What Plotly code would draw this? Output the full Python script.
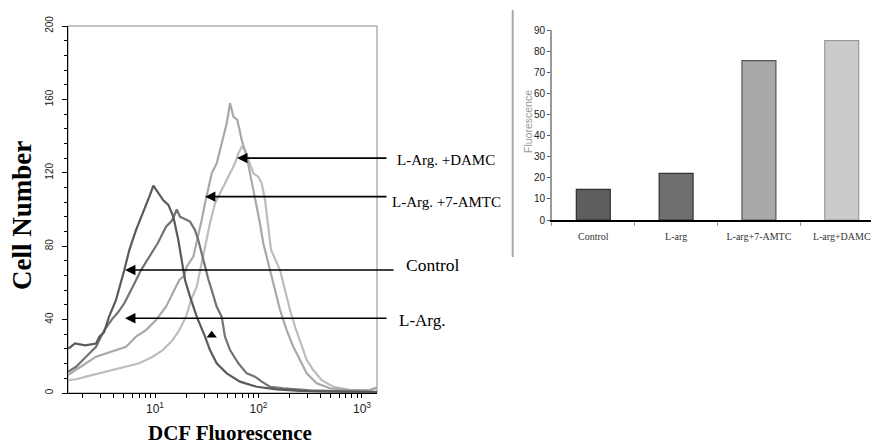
import numpy as np
import plotly.graph_objects as go

# The page places the figure 8px from the window's top-left corner,
# so the figure is drawn 8px smaller and all positions are shifted by that amount.
OFF = 8
W, H = 879 - OFF, 445 - OFF

# ---------------- histogram data (log10 of DCF fluorescence, cell counts) ----------------
ctrl_log = [0.159, 0.227, 0.324, 0.430, 0.462, 0.507, 0.556, 0.623, 0.703, 0.752, 0.816, 0.897,
            0.945, 0.984, 1.019, 1.080, 1.129, 1.177, 1.225, 1.258, 1.290, 1.338, 1.403, 1.483,
            1.531, 1.596, 1.693, 1.821, 1.983, 2.176, 2.401, 2.691, 3.145]
ctrl_cnt = [24, 27, 26, 27, 30.7, 33, 41.6, 50.7, 67, 78, 88.8, 99.7,
            107, 113, 110, 105, 102.5, 96, 83.4, 72.5, 61.6, 52.5, 41.6, 30.7,
            23.4, 16.2, 10.7, 6.2, 3.4, 2.0, 1.2, 0.8, 0.5]

larg_log = [0.159, 0.237, 0.333, 0.430, 0.510, 0.591, 0.643, 0.703, 0.785, 0.865, 0.945, 1.026,
            1.106, 1.164, 1.210, 1.242, 1.273, 1.338, 1.386, 1.418, 1.451, 1.483, 1.515, 1.548,
            1.596, 1.644, 1.676, 1.725, 1.805, 1.886, 1.966, 2.031, 2.111, 2.237, 2.498, 2.787, 3.145]
larg_cnt = [11.6, 14.3, 19.8, 25.2, 34.3, 40.7, 44, 48.9, 57.9, 67, 74.3, 81.6,
            90.6, 94, 100, 96, 95.2, 93.4, 88.8, 83.4, 76.1, 68.8, 62, 56.1,
            47, 41.6, 30.7, 23.4, 16.2, 10.7, 8.9, 6.2, 3.4, 2.5, 1.5, 1.0, 0.6]

amtc_log = [0.159, 0.237, 0.333, 0.430, 0.527, 0.623, 0.720, 0.816, 0.913, 1.010, 1.106, 1.171,
            1.235, 1.283, 1.306, 1.370, 1.418, 1.451, 1.483, 1.515, 1.548, 1.596, 1.644, 1.693,
            1.725, 1.757, 1.795, 1.838, 1.886, 1.918, 1.950, 1.983, 2.014, 2.046, 2.095, 2.111,
            2.159, 2.208, 2.272, 2.336, 2.401, 2.466, 2.562, 2.691, 2.884, 3.077, 3.145]
amtc_cnt = [9.8, 12.5, 16.2, 19.8, 21.6, 23.4, 25.2, 30.7, 34.3, 39.8, 47, 54.3,
            61.6, 64, 68.8, 74.3, 85.2, 94.3, 103.4, 112.4, 119.7, 125.2, 136.1, 147,
            158, 150.6, 148.8, 137.9, 128.8, 119.7, 112.4, 101.5, 92.5, 81.6, 70.7, 67,
            56.1, 45.2, 34.3, 25.2, 18, 10.7, 5.3, 2.6, 1.6, 1.6, 3.0]

damc_log = [0.159, 0.237, 0.333, 0.462, 0.591, 0.720, 0.848, 0.978, 1.074, 1.171, 1.235, 1.300,
            1.348, 1.403, 1.435, 1.483, 1.531, 1.580, 1.628, 1.676, 1.725, 1.773, 1.805, 1.838,
            1.870, 1.918, 1.950, 1.998, 2.031, 2.063, 2.092, 2.121, 2.208, 2.256, 2.304, 2.353,
            2.417, 2.466, 2.529, 2.611, 2.723, 2.884, 3.077, 3.145]
damc_cnt = [7, 7.5, 8.9, 10.7, 12.5, 14.3, 16.2, 19.8, 23.4, 28.9, 34.3, 41.6,
            50.7, 57.9, 67, 79.7, 92.5, 103.4, 108.8, 114.3, 119.7, 125.2, 130.6, 134.2,
            132.4, 125.2, 119.7, 117.9, 114.3, 105.2, 92.5, 78, 67, 56.1, 45.2, 36.1,
            25.2, 18, 12.5, 7, 3.4, 1.6, 1.6, 3.0]

hist_names = ["L-Arg. +DAMC", "L-Arg. +7-AMTC", "L-Arg.", "Control"]
hist_logs = [damc_log, amtc_log, larg_log, ctrl_log]
hist_counts = [damc_cnt, amtc_cnt, larg_cnt, ctrl_cnt]
hist_colors = ["#bdbdbd", "#a9a9a9", "#737373", "#5a5a5a"]

# arrow labels: text, arrow tip (fluorescence, count), tail offset px, label position px, font size
arrow_text = ["L-Arg. +DAMC", "L-Arg. +7-AMTC", "Control", "L-Arg."]
arrow_tip_x = [61.9, 30.4, 5.13, 5.13]
arrow_tip_y = [128, 107, 67, 40.7]
arrow_len_px = [151, 183, 270, 263]
label_px_x = [395, 390, 404, 397]
label_px_y = [160, 202, 265, 320]
label_size = [15, 15, 17.5, 17]

small_tri_x = [35.3]
small_tri_y = [31.5]

# ---------------- bar chart data ----------------
bar_categories = ["Control", "L-arg", "L-arg+7-AMTC", "L-arg+DAMC"]
bar_values = [14.5, 22.1, 75.5, 85]
bar_colors = ["#5e5e5e", "#6f6f6f", "#a9a9a9", "#cbcbcb"]
bar_edges = ["#2e2e2e", "#333333", "#555555", "#9a9a9a"]

# ---------------- figure ----------------
fig = go.Figure()
for name, lg, cnt, col in zip(hist_names, hist_logs, hist_counts, hist_colors):
    fig.add_trace(go.Scatter(x=10 ** np.array(lg), y=cnt, mode="lines", name=name,
                             line=dict(color=col, width=2.2), hoverinfo="skip",
                             xaxis="x", yaxis="y"))

fig.add_trace(go.Scatter(x=small_tri_x, y=small_tri_y, mode="markers",
                         marker=dict(symbol="triangle-up", size=9, color="black"),
                         hoverinfo="skip", xaxis="x", yaxis="y"))

fig.add_trace(go.Bar(x=bar_categories, y=bar_values, width=0.41,
                     marker=dict(color=bar_colors, line=dict(color=bar_edges, width=1.2)),
                     xaxis="x2", yaxis="y2", hoverinfo="skip"))

def px_x(p):
    return (p - OFF) / W

def px_y(p):
    return 1 - (p - OFF) / H

decades = [10, 100, 1000]
decade_text = ["10<sup>1</sup>", "10<sup>2</sup>", "10<sup>3</sup>"]
minor_ticks = [m * 10 ** d for d in range(0, 4) for m in range(2, 10)]
minor_ticks = [t for t in minor_ticks if 1.44 <= t <= 1396]

fig.update_layout(
    width=W, height=H,
    margin=dict(l=0, r=0, t=0, b=0, autoexpand=False),
    paper_bgcolor="white", plot_bgcolor="white",
    showlegend=False,
    xaxis=dict(type="log", range=[0.159, 3.145], domain=[px_x(68), px_x(377)], anchor="y",
               automargin=False,
               showline=True, linecolor="black", linewidth=1.3, mirror=False,
               ticks="outside", ticklen=4, tickwidth=1, tickcolor="black",
               tickmode="array", tickvals=decades, ticktext=decade_text,
               minor=dict(tickmode="array", tickvals=minor_ticks, ticks="outside",
                          ticklen=4, tickcolor="black", showgrid=False),
               tickfont=dict(family="Arial", size=12, color="#222"),
               showgrid=False, zeroline=False),
    yaxis=dict(range=[0, 200], domain=[px_y(393), px_y(26)], anchor="x",
               automargin=False,
               showline=True, linecolor="black", linewidth=1.3,
               tickvals=[0, 40, 80, 120, 160, 200], tickangle=-90,
               ticks="outside", ticklen=5, tickcolor="black",
               minor=dict(dtick=8, ticks="outside", ticklen=3, tickcolor="black", showgrid=False),
               tickfont=dict(family="Arial", size=10, color="#222"),
               ticklabelstandoff=5,
               showgrid=False, zeroline=False),
    xaxis2=dict(type="category", domain=[px_x(551.9), 1.0], range=[-0.5, 3.45], anchor="y2",
                automargin=False,
                showline=True, linecolor="black", linewidth=1.5,
                ticks="outside", tickson="boundaries", ticklen=4, tickcolor="#999",
                tickfont=dict(family="Liberation Serif", size=10, color="#333"),
                ticklabelstandoff=6, showgrid=False, zeroline=False),
    yaxis2=dict(range=[0, 90], dtick=10, domain=[px_y(220), px_y(30)], anchor="x2",
                automargin=False,
                showline=True, linecolor="#999", linewidth=1.5,
                ticks="outside", ticklen=3, tickcolor="#555",
                tickfont=dict(family="Arial", size=10, color="#222"),
                showgrid=False, zeroline=False),
)

shapes = [
    dict(type="rect", xref="paper", yref="paper", x0=px_x(68), x1=px_x(377),
         y0=px_y(393), y1=px_y(26), line=dict(color="#888", width=1), layer="below"),
    dict(type="line", xref="paper", yref="paper", x0=px_x(512.7), x1=px_x(512.7),
         y0=px_y(257), y1=px_y(10), line=dict(color="#aaa", width=2)),
]
fig.update_layout(shapes=shapes)

annotations = []
for t, tx, ty, ln, lx, ly, fs in zip(arrow_text, arrow_tip_x, arrow_tip_y, arrow_len_px,
                                     label_px_x, label_px_y, label_size):
    annotations.append(dict(x=np.log10(tx), y=ty, xref="x", yref="y", text="",
                            showarrow=True, arrowhead=2, arrowsize=1.3, arrowwidth=1.6,
                            arrowcolor="black", ax=ln, ay=0, standoff=0))
    annotations.append(dict(x=px_x(lx), y=px_y(ly), xref="paper", yref="paper", text=t,
                            showarrow=False, xanchor="left", yanchor="middle",
                            font=dict(family="Liberation Serif", size=fs, color="black")))

annotations += [
    dict(x=px_x(22), y=px_y(216), xref="paper", yref="paper", text="<b>Cell Number</b>",
         textangle=-90, showarrow=False, xanchor="center", yanchor="middle",
         font=dict(family="Liberation Serif", size=27, color="black")),
    dict(x=px_x(230), y=px_y(433), xref="paper", yref="paper", text="<b>DCF Fluorescence</b>",
         showarrow=False, xanchor="center", yanchor="middle",
         font=dict(family="Liberation Serif", size=21, color="black")),
    dict(x=px_x(528), y=px_y(122), xref="paper", yref="paper", text="Fluorescence",
         textangle=-90, showarrow=False, xanchor="center", yanchor="middle",
         font=dict(family="Arial", size=10.5, color="#999")),
]
fig.update_layout(annotations=annotations)

fig.write_html("out.html")
